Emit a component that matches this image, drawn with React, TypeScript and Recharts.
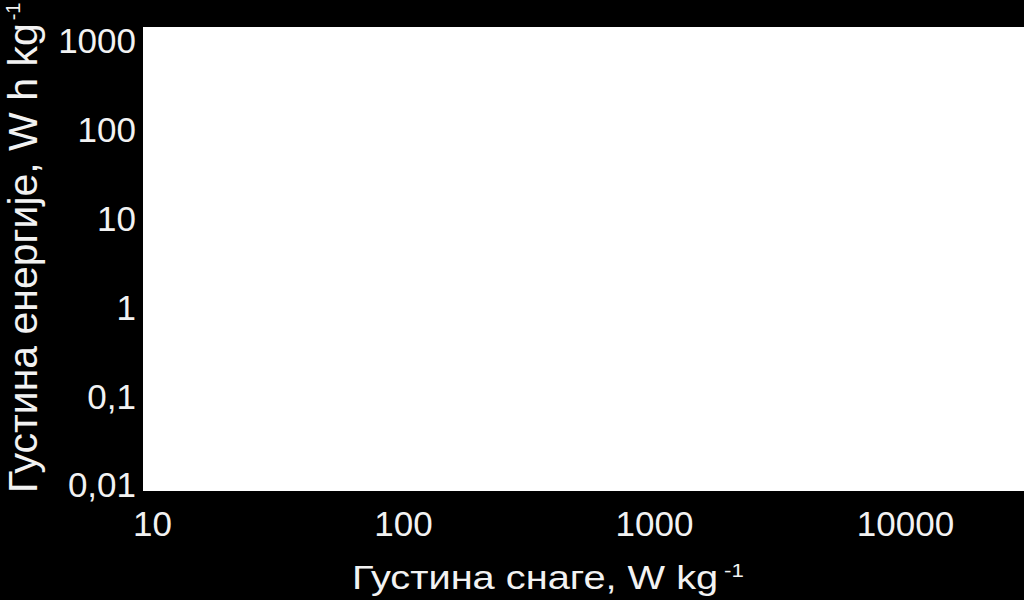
import React from "react";
import { ScatterChart, Scatter, XAxis, YAxis, CartesianGrid } from "recharts";

// power density (W/kg) and energy density (Wh/kg) decades
const xTicks = [10, 100, 1000, 10000];
const yTicks = [0.01, 0.1, 1, 10, 100, 1000];
const points: { p: number; e: number }[] = [];

const xTitle = "Густина снаге, W kg";
const yTitle = "Густина енергије, W h kg";

const FONT = "'Liberation Sans', Arial, sans-serif";
const INK = "#f2f2f2";

const fmt = (v: number) => String(v).replace(".", ",");

function XTitle(props: any) {
  const { viewBox } = props;
  const x = viewBox.x + 209;
  const y = viewBox.y + 98;
  return (
    <text transform={`translate(${x}, ${y}) scale(1.17, 1)`} fill={INK} fontSize={34} fontFamily={FONT}>
      {xTitle}
      <tspan fontSize={19} dx={5} dy={-12}>-1</tspan>
    </text>
  );
}

function YTitle() {
  const x = 37;
  const y = 493;
  return (
    <text x={x} y={y} transform={`rotate(-90, ${x}, ${y})`} fill={INK} fontSize={41} fontFamily={FONT}>
      {yTitle}
      <tspan fontSize={20} dx={3} dy={-17}>-1</tspan>
    </text>
  );
}

export default function App() {
  return (
    <div style={{ position: "fixed", left: 0, top: 0, width: 1024, height: 600, background: "#000" }}>
      <ScatterChart width={1024} height={600} margin={{ top: 27, right: 0, bottom: 0, left: 0 }}>
        <CartesianGrid fill="#ffffff" horizontal={false} vertical={false} />
        <XAxis
          type="number"
          dataKey="p"
          scale="log"
          domain={[9.17, 29650]}
          ticks={xTicks}
          allowDataOverflow
          height={109}
          axisLine={false}
          tickLine={false}
          tickSize={0}
          tickMargin={20}
          tick={{ fill: INK, fontSize: 35, fontFamily: FONT }}
          label={<XTitle />}
        />
        <YAxis
          type="number"
          dataKey="e"
          scale="log"
          domain={[0.00856, 1438]}
          ticks={yTicks}
          allowDataOverflow
          width={143}
          axisLine={false}
          tickLine={false}
          tickSize={0}
          tickMargin={7}
          tickFormatter={fmt}
          tick={{ fill: INK, fontSize: 35, fontFamily: FONT }}
          label={<YTitle />}
        />
        <Scatter data={points} fill="#000" isAnimationActive={false} />
      </ScatterChart>
    </div>
  );
}
